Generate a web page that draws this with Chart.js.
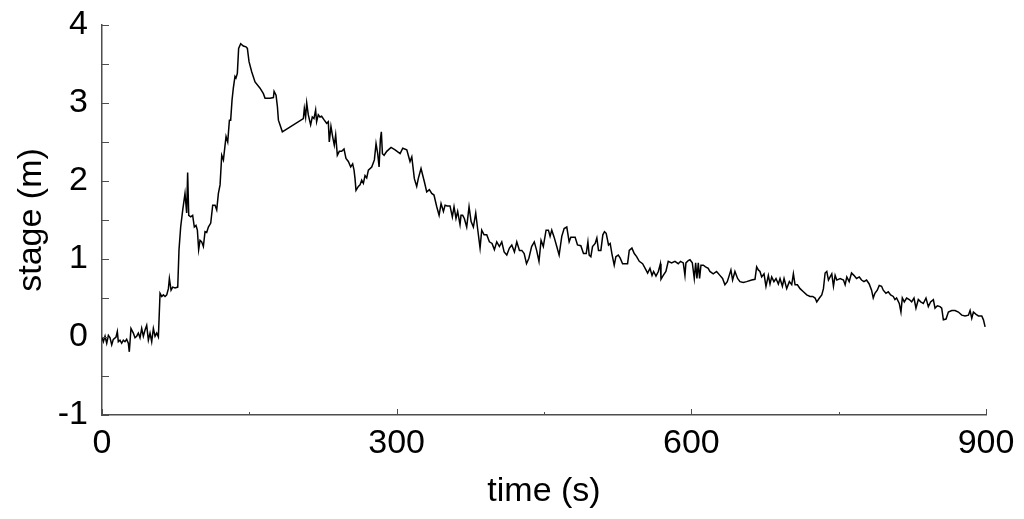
<!DOCTYPE html>
<html>
<head>
<meta charset="utf-8">
<script src="https://cdn.jsdelivr.net/npm/chart.js@4.4.1/dist/chart.umd.min.js"></script>
<style>
  html, body { margin: 0; padding: 0; background: #fff; }
  canvas { display: block; }
</style>
</head>
<body>
<canvas id="chart" width="1024" height="519"></canvas>
<script>
// time (s)
const times = [
  0, 1.4, 3.1, 4.8, 6.5, 8.2, 9.9, 11.5, 14.3, 15.6, 16.6, 18.3, 20.0, 21.7, 23.4, 25.1, 26.8, 27.8, 29.5, 31.9,
  33.6, 35.3, 37.0, 38.7, 40.4, 42.1, 43.8, 45.5, 47.2, 48.9, 50.6, 52.3, 54.0, 55.7, 57.4, 59.1, 60.8, 62.5, 64.2, 65.9,
  67.6, 68.6, 70.3, 72.0, 74.4, 77.1, 78.4, 80.1, 82.2, 84.5, 86.2, 87.2, 88.3, 90.3, 92.3, 94.0, 95.7, 97.1, 98.4, 99.8,
  101.5, 103.2, 104.9, 106.6, 108.3, 110.7, 112.7, 115.1, 116.8, 118.5, 120.2, 121.9, 123.6, 126.3, 128.0, 129.7, 131.0, 132.4, 133.7, 135.4,
  136.4, 137.8, 139.1, 141.2, 143.9, 146.6, 148.0, 149.7, 152.4, 155.8, 160.9, 164.3, 166.0, 171.1, 174.5, 175.2, 177.2, 178.6, 179.6, 181.2,
  183.6, 205.0, 206.0, 207.3, 208.4, 210.0, 212.4, 214.1, 215.8, 217.5, 218.5, 220.2, 221.9, 223.6, 226.3, 228.7, 230.4, 231.4, 233.1, 234.8,
  236.5, 237.9, 239.6, 241.6, 244.0, 246.4, 248.4, 250.8, 253.2, 255.2, 256.6, 257.6, 258.6, 261.0, 262.7, 264.4, 266.1, 267.8, 269.5, 271.2,
  274.6, 277.3, 279.0, 280.7, 282.1, 283.4, 284.4, 285.5, 287.2, 289.9, 294.3, 298.4, 303.5, 306.2, 310.3, 313.6, 315.4, 318.0, 320.4, 322.0,
  324.8, 328.2, 330.6, 333.3, 335.7, 338.0, 340.8, 343.2, 345.2, 347.6, 349.3, 351.6, 354.3, 356.7, 358.4, 360.4, 362.1, 364.5, 365.5, 367.2,
  368.9, 371.3, 373.7, 375.8, 378.1, 380.5, 382.2, 384.9, 386.6, 389.0, 391.7, 394.4, 397.1, 399.5, 401.9, 404.6, 407.0, 409.4, 412.1, 414.8,
  417.2, 419.9, 422.3, 425.0, 427.4, 429.8, 432.2, 434.6, 437.4, 440.1, 442.5, 444.9, 447.0, 449.3, 452.1, 454.5, 456.2, 457.9, 460.3, 463.0,
  465.4, 468.1, 470.5, 473.2, 475.6, 477.3, 481.7, 484.1, 487.5, 490.2, 493.0, 494.7, 496.0, 497.7, 499.4, 502.1, 503.8, 505.5, 507.9, 509.9,
  511.6, 513.3, 515.7, 517.4, 519.1, 521.5, 523.2, 525.6, 527.6, 530.0, 532.4, 535.1, 536.8, 539.5, 541.9, 544.3, 547.0, 550.4, 553.8, 555.5,
  557.9, 560.0, 561.6, 564.0, 566.4, 568.5, 569.1, 571.4, 574.1, 576.5, 579.9, 583.3, 586.7, 589.0, 591.8, 593.5, 594.5, 596.9, 598.6, 601.0,
  603.0, 604.4, 605.7, 607.1, 608.4, 609.8, 612.2, 614.5, 617.2, 618.9, 622.3, 625.7, 629.1, 631.8, 634.2, 636.6, 638.6, 640.3, 642.0, 644.4,
  647.1, 649.5, 652.9, 656.3, 661.4, 664.8, 666.5, 668.2, 669.9, 671.6, 674.0, 676.0, 678.4, 680.1, 681.8, 684.1, 686.2, 688.6, 690.3, 692.7,
  694.4, 697.1, 699.8, 702.2, 703.9, 705.6, 708.0, 710.7, 714.1, 717.5, 720.9, 723.6, 726.0, 727.7, 730.4, 732.8, 734.5, 736.2, 737.9, 739.6,
  741.3, 743.0, 744.7, 746.4, 748.1, 751.5, 754.9, 756.6, 758.3, 760.7, 763.1, 765.5, 768.2, 771.0, 773.3, 775.7, 778.4, 781.1, 783.5, 785.2,
  786.9, 789.3, 791.3, 793.7, 795.4, 798.1, 800.5, 802.9, 805.6, 807.3, 809.0, 811.7, 813.4, 814.8, 816.8, 819.2, 821.9, 824.3, 826.7, 828.7,
  831.1, 833.5, 836.2, 838.9, 841.3, 843.6, 846.4, 848.1, 850.5, 853.2, 854.9, 856.6, 859.3, 861.7, 865.1, 868.5, 871.9, 875.3, 878.7, 882.1,
  883.8, 885.5, 887.2, 889.9, 892.3, 895.7, 897.4, 899.1
];

// stage (m)
const stage = [
  0.00, -0.06, 0.01, -0.08, 0.02, -0.01, -0.10, -0.03, 0.00, 0.07, -0.06, -0.04, -0.08, -0.04, -0.06, -0.03, -0.08, -0.19, 0.11, 0.05,
  -0.01, 0.01, 0.05, -0.01, 0.11, 0.01, 0.09, 0.15, -0.04, 0.05, -0.06, 0.11, 0.01, 0.05, 0.00, 0.56, 0.52, 0.54, 0.52, 0.54,
  0.62, 0.75, 0.60, 0.64, 0.63, 0.64, 1.12, 1.41, 1.63, 1.84, 1.59, 2.11, 1.56, 1.54, 1.56, 1.41, 1.43, 1.37, 1.12, 1.24,
  1.22, 1.16, 1.35, 1.34, 1.41, 1.46, 1.69, 1.69, 1.63, 1.84, 1.95, 2.33, 2.27, 2.57, 2.50, 2.78, 2.78, 3.04, 3.19, 3.34,
  3.32, 3.38, 3.70, 3.76, 3.73, 3.72, 3.70, 3.53, 3.40, 3.27, 3.19, 3.12, 3.06, 3.06, 3.07, 3.15, 3.10, 2.95, 2.78, 2.72,
  2.63, 2.80, 2.93, 2.82, 3.00, 2.85, 2.72, 2.82, 2.80, 2.91, 2.76, 2.85, 2.82, 2.83, 2.78, 2.74, 2.76, 2.50, 2.70, 2.57,
  2.46, 2.59, 2.33, 2.38, 2.38, 2.41, 2.29, 2.25, 2.18, 2.22, 2.14, 2.03, 1.88, 1.93, 1.95, 2.01, 1.97, 2.07, 2.04, 2.14,
  2.18, 2.27, 2.48, 2.35, 2.18, 2.53, 2.63, 2.35, 2.33, 2.38, 2.43, 2.40, 2.35, 2.42, 2.40, 2.25, 2.31, 2.03, 1.93, 2.03,
  2.16, 1.99, 1.86, 1.89, 1.84, 1.82, 1.67, 1.56, 1.71, 1.61, 1.69, 1.68, 1.68, 1.54, 1.67, 1.52, 1.61, 1.44, 1.56, 1.56,
  1.52, 1.41, 1.67, 1.48, 1.41, 1.59, 1.41, 1.14, 1.37, 1.31, 1.31, 1.22, 1.20, 1.12, 1.22, 1.16, 1.22, 1.09, 1.05, 1.14,
  1.18, 1.09, 1.22, 1.11, 1.11, 1.07, 0.94, 1.01, 1.16, 1.22, 1.11, 0.97, 1.24, 1.16, 1.37, 1.37, 1.29, 1.37, 1.28, 1.16,
  1.05, 1.29, 1.39, 1.41, 1.22, 1.28, 1.28, 1.18, 1.17, 1.07, 1.07, 1.22, 1.05, 1.03, 1.16, 1.20, 1.27, 1.11, 1.11, 1.31,
  1.35, 1.33, 1.18, 1.20, 1.07, 0.92, 1.03, 1.05, 1.01, 0.94, 0.94, 0.94, 1.11, 1.14, 1.07, 1.03, 0.97, 0.94, 0.86, 0.82,
  0.88, 0.79, 0.84, 0.78, 0.84, 0.94, 0.74, 0.79, 0.84, 0.97, 0.95, 0.97, 0.94, 0.97, 0.95, 0.79, 0.95, 0.98, 0.99, 0.95,
  0.75, 0.95, 0.75, 0.95, 0.75, 0.92, 0.92, 0.90, 0.88, 0.84, 0.81, 0.84, 0.79, 0.75, 0.67, 0.71, 0.79, 0.86, 0.73, 0.84,
  0.75, 0.71, 0.70, 0.71, 0.73, 0.74, 0.90, 0.86, 0.84, 0.77, 0.81, 0.65, 0.79, 0.68, 0.77, 0.71, 0.75, 0.68, 0.75, 0.65,
  0.75, 0.62, 0.71, 0.67, 0.81, 0.67, 0.67, 0.62, 0.58, 0.54, 0.52, 0.52, 0.50, 0.45, 0.50, 0.54, 0.62, 0.82, 0.84, 0.73,
  0.77, 0.81, 0.65, 0.79, 0.73, 0.75, 0.73, 0.67, 0.77, 0.71, 0.82, 0.79, 0.75, 0.77, 0.73, 0.71, 0.73, 0.68, 0.60, 0.50,
  0.56, 0.60, 0.66, 0.65, 0.60, 0.56, 0.58, 0.54, 0.52, 0.48, 0.50, 0.43, 0.32, 0.50, 0.45, 0.50, 0.48, 0.45, 0.50, 0.37,
  0.48, 0.45, 0.43, 0.50, 0.39, 0.45, 0.48, 0.37, 0.40, 0.39, 0.37, 0.22, 0.23, 0.32, 0.34, 0.34, 0.32, 0.28, 0.27, 0.28,
  0.34, 0.24, 0.32, 0.29, 0.27, 0.27, 0.22, 0.13
];

// tick marks (labelled every 300 s / 1 m)
const xTickValues = [0, 150, 300, 450, 600, 750, 900];
const yTickValues = [-1, -0.5, 0, 0.5, 1, 1.5, 2, 2.5, 3, 3.5, 4];

const axisColor = '#4d4d4d';
const fontFamily = "'Liberation Sans', Arial, sans-serif";

// ticks drawn inward, like the original figure
const inwardTicks = {
  id: 'inwardTicks',
  afterDraw(chart) {
    const {ctx, chartArea, scales: {x, y}} = chart;
    ctx.save();
    ctx.strokeStyle = axisColor;
    ctx.lineWidth = 1;
    ctx.beginPath();
    xTickValues.forEach(v => {
      const px = Math.round(x.getPixelForValue(v)) + 0.5;
      const len = v % 300 === 0 ? 6 : 3;
      ctx.moveTo(px, chartArea.bottom);
      ctx.lineTo(px, chartArea.bottom - len);
    });
    yTickValues.forEach(v => {
      const py = Math.round(y.getPixelForValue(v)) + 0.5;
      ctx.moveTo(chartArea.left, py);
      ctx.lineTo(chartArea.left + 7, py);
    });
    ctx.stroke();
    ctx.restore();
  }
};

const points = times.map((t, i) => ({x: t, y: stage[i]}));

new Chart(document.getElementById('chart'), {
  type: 'scatter',
  data: {
    datasets: [{
      data: points,
      showLine: true,
      borderColor: '#000',
      borderWidth: 1.5,
      pointRadius: 0,
      tension: 0,
      fill: false
    }]
  },
  options: {
    responsive: false,
    animation: false,
    devicePixelRatio: 1,
    layout: { padding: { top: 25, right: 38, left: 0, bottom: 0 } },
    plugins: { legend: { display: false }, tooltip: { enabled: false } },
    scales: {
      x: {
        type: 'linear',
        min: 0, max: 900,
        afterFit: s => { s.height = 104; s.paddingLeft = 0; s.paddingRight = 0; },
        grid: { display: false, drawTicks: false },
        border: { display: true, color: axisColor, width: 1.5 },
        ticks: {
          stepSize: 300, maxRotation: 0, padding: 8, color: '#000',
          font: { family: fontFamily, size: 34 }
        },
        title: {
          display: true, text: 'time (s)', color: '#000',
          font: { family: fontFamily, size: 34 },
          padding: { top: 0, bottom: 7 }
        }
      },
      y: {
        type: 'linear',
        min: -1, max: 4,
        afterFit: s => { s.width = 102; s.paddingTop = 0; s.paddingBottom = 0; },
        grid: { display: false, drawTicks: false },
        border: { display: true, color: axisColor, width: 1.5 },
        ticks: {
          stepSize: 1, padding: 14, color: '#000',
          font: { family: fontFamily, size: 34 }
        },
        title: {
          display: true, text: 'stage (m)', color: '#000',
          font: { family: fontFamily, size: 34 },
          padding: { top: 11, bottom: 0 }
        }
      }
    }
  },
  plugins: [inwardTicks]
});
</script>
</body>
</html>
